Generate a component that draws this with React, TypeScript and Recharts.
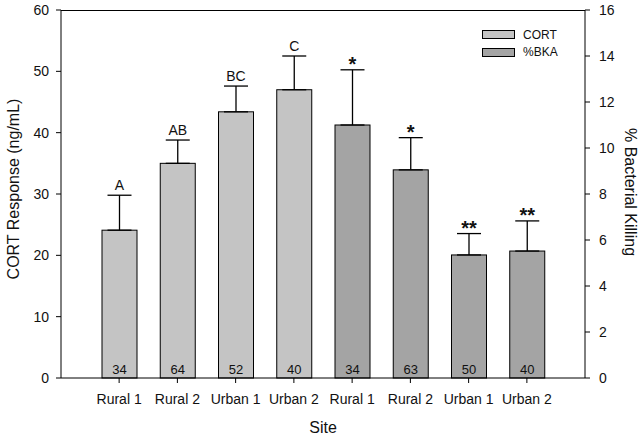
import { BarChart, Bar, XAxis, YAxis, ErrorBar, Legend, Label } from "recharts";

const FONT = "'Liberation Sans', Arial, sans-serif";
const MARGIN_TOP = 10;

const sites = ["Rural 1", "Rural 2", "Urban 1", "Urban 2", "Rural 1", "Rural 2", "Urban 1", "Urban 2"];
const cortMean = [24.1, 35.0, 43.4, 47.0];
const cortSE = [5.7, 3.8, 4.2, 5.5];
const bkaMean = [11.0, 9.05, 5.35, 5.52];
const bkaSE = [2.4, 1.4, 0.93, 1.31];
const sampleSizes = [34, 64, 52, 40, 34, 63, 50, 40];
const groupMarks = ["A", "AB", "BC", "C", "*", "*", "**", "**"];
const cortTicks = [0, 10, 20, 30, 40, 50, 60];
const bkaTicks = [0, 2, 4, 6, 8, 10, 12, 14, 16];
const seriesNames = ["CORT", "%BKA"];
const seriesColors = ["#c4c4c4", "#a4a4a4"];

const data = sites.map((site, i) => {
    const isCort = i < 4;
    const j = isCort ? i : i - 4;
    return {
        id: i,
        site,
        cort: isCort ? cortMean[j] : null,
        cortErr: isCort ? [0, cortSE[j]] : null,
        bka: isCort ? null : bkaMean[j],
        bkaErr: isCort ? null : [0, bkaSE[j]],
        se: isCort ? cortSE[j] : bkaSE[j],
        n: sampleSizes[i],
        mark: groupMarks[i],
    };
});

const makeShape = (valueKey: "cort" | "bka") => (props: any) => {
    const { x, y, width, height, fill, payload } = props;
    const value = payload?.[valueKey];
    if (value == null || !height) return null;
    const perUnit = height / value;
    const capY = y - payload.se * perUnit;
    const cx = x + width / 2;
    const isStar = payload.mark.includes("*");
    return (
        <g>
            <rect x={x} y={y} width={width} height={height} fill={fill} stroke="#000" strokeWidth={1} />
            <text x={cx} y={y + height - 4.5} textAnchor="middle" fontFamily={FONT} fontSize={13} fill="#111">
                {payload.n}
            </text>
            <text
                x={cx}
                y={isStar ? capY + 1 : capY - 5}
                textAnchor="middle"
                fontFamily={FONT}
                fontSize={isStar ? 20 : 14}
                fontWeight={isStar ? "bold" : "normal"}
                fill="#111"
            >
                {payload.mark}
            </text>
        </g>
    );
};

const renderLegend = () => (
    <div style={{ fontFamily: FONT, fontSize: 12, color: "#111" }}>
        {seriesNames.map((name, i) => (
            <div key={name} style={{ display: "flex", alignItems: "center", height: 17.5 }}>
                <span
                    style={{
                        display: "inline-block",
                        width: 33,
                        height: 9,
                        background: seriesColors[i],
                        border: "1px solid #000",
                        boxSizing: "border-box",
                        marginRight: 8,
                    }}
                />
                {name}
            </div>
        ))}
    </div>
);

// x-axis title, plus the top edge of the plot frame
const renderSiteLabel = ({ viewBox }: any) => (
    <g>
        <line
            x1={viewBox.x}
            x2={viewBox.x + viewBox.width}
            y1={MARGIN_TOP + 0.5}
            y2={MARGIN_TOP + 0.5}
            stroke="#000"
            strokeWidth={1}
        />
        <text
            x={viewBox.x + viewBox.width / 2}
            y={viewBox.y + 55}
            textAnchor="middle"
            fontFamily={FONT}
            fontSize={16}
            fill="#111"
        >
            Site
        </text>
    </g>
);

export default function App() {
    return (
        <div style={{ position: "absolute", left: 0, top: 0, width: 641, height: 440, background: "#fff" }}>
            <BarChart width={641} height={440} data={data} margin={{ top: MARGIN_TOP, right: 0, left: 0, bottom: 0 }}>
                <XAxis
                    xAxisId="site"
                    dataKey="id"
                    height={62}
                    padding={{ left: 29, right: 29 }}
                    tickFormatter={(_v: any, i: number) => sites[i]}
                    tick={{ fontFamily: FONT, fontSize: 14, fill: "#111" }}
                    tickSize={5}
                    tickMargin={11}
                    stroke="#000"
                    interval={0}
                >
                    <Label content={renderSiteLabel} />
                </XAxis>
                {/* hidden category axis for the %BKA bars, same bands as the visible one */}
                <XAxis
                    xAxisId="bka"
                    dataKey="id"
                    orientation="top"
                    height={0}
                    padding={{ left: 29, right: 29 }}
                    hide
                />
                <YAxis
                    yAxisId="left"
                    width={61}
                    domain={[0, 60]}
                    ticks={cortTicks}
                    tick={{ fontFamily: FONT, fontSize: 14, fill: "#111" }}
                    tickSize={5}
                    tickMargin={7}
                    stroke="#000"
                >
                    <Label
                        content={({ viewBox }: any) => {
                            const cx = 13;
                            const cy = viewBox.y + viewBox.height / 2 - 5;
                            return (
                                <text
                                    x={cx}
                                    y={cy}
                                    transform={`rotate(-90 ${cx} ${cy})`}
                                    textAnchor="middle"
                                    dominantBaseline="central"
                                    fontFamily={FONT}
                                    fontSize={16}
                                    fill="#111"
                                >
                                    CORT Response (ng/mL)
                                </text>
                            );
                        }}
                    />
                </YAxis>
                <YAxis
                    yAxisId="right"
                    orientation="right"
                    width={56}
                    domain={[0, 16]}
                    ticks={bkaTicks}
                    tick={{ fontFamily: FONT, fontSize: 14, fill: "#111" }}
                    tickSize={5}
                    tickMargin={9}
                    stroke="#000"
                >
                    <Label
                        content={({ viewBox }: any) => {
                            const cx = viewBox.x + 45;
                            const cy = viewBox.y + viewBox.height / 2 - 2;
                            return (
                                <text
                                    x={cx}
                                    y={cy}
                                    transform={`rotate(90 ${cx} ${cy})`}
                                    textAnchor="middle"
                                    dominantBaseline="central"
                                    fontFamily={FONT}
                                    fontSize={16}
                                    fill="#111"
                                >
                                    % Bacterial Killing
                                </text>
                            );
                        }}
                    />
                </YAxis>
                <Legend
                    layout="vertical"
                    verticalAlign="middle"
                    align="center"
                    content={renderLegend}
                    wrapperStyle={{ top: 26, left: 482, width: 100 }}
                />
                <Bar
                    xAxisId="site"
                    yAxisId="left"
                    dataKey="cort"
                    name={seriesNames[0]}
                    fill={seriesColors[0]}
                    barSize={35}
                    shape={makeShape("cort")}
                    isAnimationActive={false}
                >
                    <ErrorBar dataKey="cortErr" direction="y" width={12} stroke="#000" strokeWidth={1.3} />
                </Bar>
                <Bar
                    xAxisId="bka"
                    yAxisId="right"
                    dataKey="bka"
                    name={seriesNames[1]}
                    fill={seriesColors[1]}
                    barSize={35}
                    shape={makeShape("bka")}
                    isAnimationActive={false}
                >
                    <ErrorBar dataKey="bkaErr" direction="y" width={12} stroke="#000" strokeWidth={1.3} />
                </Bar>
            </BarChart>
        </div>
    );
}
